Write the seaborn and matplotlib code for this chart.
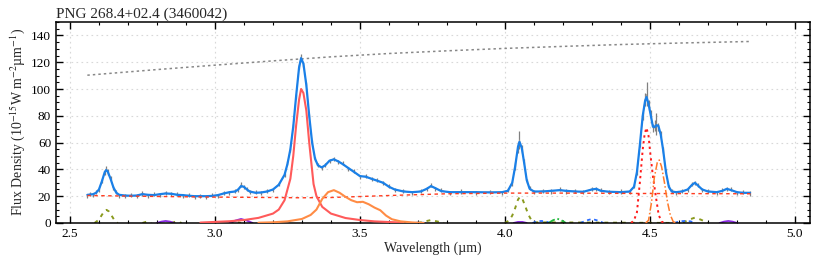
import numpy as np
import pandas as pd
import matplotlib
matplotlib.use("Agg")
import matplotlib.pyplot as plt
import seaborn as sns
from matplotlib.ticker import MultipleLocator

# ---------------- data ----------------
title = "PNG 268.4+02.4 (3460042)"

model_wl = [2.560, 2.570, 2.580, 2.590, 2.600, 2.610, 2.620, 2.625, 2.630, 2.640,
            2.650, 2.660, 2.670, 2.690, 2.710, 2.730, 2.750, 2.770, 2.790, 2.810,
            2.830, 2.850, 2.870, 2.890, 2.910, 2.930, 2.950, 2.970, 2.990, 3.010,
            3.030, 3.050, 3.070, 3.080, 3.090, 3.100, 3.110, 3.120, 3.140, 3.160,
            3.180, 3.200, 3.220, 3.240, 3.250, 3.260, 3.270, 3.280, 3.290, 3.297,
            3.305, 3.315, 3.325, 3.335, 3.345, 3.355, 3.368, 3.380, 3.395, 3.410,
            3.425, 3.440, 3.460, 3.480, 3.500, 3.520, 3.540, 3.560, 3.580, 3.600,
            3.620, 3.650, 3.680, 3.710, 3.730, 3.745, 3.760, 3.780, 3.810, 3.850,
            3.900, 3.950, 3.990, 4.010, 4.025, 4.035, 4.045, 4.050, 4.058, 4.066,
            4.075, 4.085, 4.100, 4.130, 4.160, 4.190, 4.210, 4.240, 4.270, 4.300,
            4.315, 4.330, 4.360, 4.400, 4.430, 4.445, 4.455, 4.465, 4.475, 4.483,
            4.488, 4.495, 4.503, 4.510, 4.516, 4.522, 4.529, 4.537, 4.545, 4.555,
            4.565, 4.575, 4.590, 4.610, 4.630, 4.645, 4.655, 4.665, 4.680, 4.700,
            4.730, 4.750, 4.765, 4.780, 4.800, 4.820, 4.845]
model_flux = [21.0, 21.2, 21.5, 22.5, 25.0, 31.0, 38.0, 39.5, 38.5, 33.0,
              26.5, 22.5, 21.0, 20.5, 20.3, 20.5, 21.5, 21.0, 20.8, 21.5,
              22.0, 21.8, 21.0, 20.8, 20.3, 20.0, 20.0, 20.0, 20.2, 20.8,
              22.0, 23.0, 23.5, 25.0, 27.5, 27.0, 25.0, 23.5, 22.5, 22.8,
              23.5, 25.0, 28.5, 36.0, 44.0, 55.0, 72.0, 95.0, 116.0, 123.0,
              119.0, 103.0, 80.0, 60.0, 48.0, 43.0, 41.5, 43.0, 46.5, 47.5,
              46.0, 44.0, 41.0, 38.0, 35.0, 34.5, 33.0, 31.5, 30.0, 27.0,
              25.0, 23.5, 23.0, 23.5, 25.5, 27.5, 26.0, 23.8, 23.0, 23.0,
              23.0, 22.8, 23.0, 24.0, 30.0, 42.0, 57.0, 60.5, 56.0, 45.0,
              32.0, 25.5, 23.5, 23.5, 24.0, 24.5, 24.0, 23.5, 23.3, 25.0,
              25.5, 24.0, 23.3, 23.0, 23.5, 27.0, 38.0, 58.0, 80.0, 91.0,
              94.0, 89.0, 80.0, 72.0, 71.5, 73.0, 72.5, 66.0, 55.0, 38.0,
              27.0, 23.5, 23.0, 23.5, 25.0, 28.5, 30.0, 28.0, 25.0, 23.5,
              23.0, 24.0, 25.5, 24.5, 23.0, 22.5, 22.5]

obs_flux = [20.5, 21.8, 21.0, 23.0, 24.5, 31.5, 37.5, 40.5, 38.0, 33.5,
            26.0, 23.0, 20.5, 20.0, 20.8, 20.0, 22.0, 20.5, 21.3, 21.0,
            22.5, 21.3, 21.5, 20.3, 20.8, 19.5, 20.5, 19.6, 20.6, 20.3,
            22.5, 22.6, 24.0, 24.5, 28.5, 26.5, 25.5, 23.0, 23.0, 22.3,
            24.0, 24.5, 29.0, 35.5, 44.5, 54.5, 72.5, 94.5, 117.0, 124.0,
            118.5, 104.0, 79.5, 60.5, 47.5, 43.5, 41.0, 43.5, 46.0, 48.0,
            45.5, 44.5, 40.5, 38.5, 34.5, 35.0, 32.5, 32.0, 29.5, 27.5,
            24.5, 24.0, 22.5, 24.0, 25.0, 28.0, 25.5, 24.3, 22.5, 23.5,
            22.5, 23.2, 22.6, 24.5, 29.5, 42.5, 56.5, 62.0, 55.0, 46.0,
            31.5, 26.0, 23.0, 24.0, 23.5, 25.0, 23.5, 24.0, 22.8, 25.5,
            25.0, 24.5, 22.8, 23.5, 23.0, 27.5, 37.5, 58.5, 79.5, 92.0,
            96.0, 88.0, 81.0, 71.0, 72.5, 74.0, 71.5, 66.5, 54.5, 38.5,
            26.5, 24.0, 22.5, 24.0, 24.5, 29.0, 29.5, 28.5, 24.5, 24.0,
            22.5, 24.5, 25.0, 25.0, 22.5, 23.0, 22.0]
obs_err = [1.5, 1.5, 1.5, 1.5, 1.5, 1.5, 2.0, 2.0, 2.0, 1.5,
           1.5, 1.5, 1.5, 1.5, 1.5, 1.5, 1.5, 1.5, 1.5, 1.5,
           1.5, 1.5, 1.5, 1.5, 1.5, 1.5, 1.5, 1.5, 1.5, 1.5,
           1.5, 1.5, 1.5, 1.5, 2.0, 1.5, 1.5, 1.5, 1.5, 1.5,
           1.5, 1.5, 1.5, 1.5, 1.5, 1.5, 1.5, 2.0, 2.0, 2.0,
           2.0, 1.5, 1.5, 1.5, 1.5, 1.5, 1.5, 1.5, 1.5, 1.5,
           1.5, 1.5, 1.5, 1.5, 1.5, 1.5, 1.5, 1.5, 1.5, 1.5,
           1.5, 1.5, 1.5, 1.5, 1.5, 1.5, 1.5, 1.5, 1.5, 1.5,
           1.5, 1.5, 1.5, 1.5, 2.0, 3.0, 4.0, 7.0, 3.0, 2.0,
           1.5, 1.5, 1.5, 1.5, 1.5, 1.5, 1.5, 1.5, 1.5, 1.5,
           1.5, 1.5, 1.5, 1.5, 1.5, 1.5, 2.0, 2.0, 3.0, 5.0,
           9.0, 4.0, 3.0, 3.0, 4.0, 8.0, 3.0, 2.0, 2.0, 1.5,
           1.5, 1.5, 1.5, 1.5, 1.5, 1.5, 1.5, 1.5, 1.5, 1.5,
           1.5, 1.5, 1.5, 1.5, 1.5, 1.5, 1.5]

stellar_wl = [2.56, 2.80, 3.00, 3.20, 3.40, 3.60, 3.80, 4.00, 4.20, 4.40, 4.60, 4.85]
stellar_flux = [110.3, 114.5, 117.8, 121.0, 124.0, 126.5, 128.5, 130.3, 131.8, 133.2, 134.3, 135.5]

cont_wl = [2.56, 2.80, 3.00, 3.20, 3.30, 3.40, 3.60, 3.80, 4.00, 4.20, 4.50, 4.85]
cont_flux = [20.5, 19.8, 19.3, 19.0, 18.8, 19.0, 20.5, 21.8, 22.3, 22.3, 22.0, 21.8]

pah33_wl = [2.95, 3.00, 3.05, 3.10, 3.15, 3.20, 3.22, 3.24, 3.26, 3.27, 3.28, 3.29,
            3.297, 3.305, 3.315, 3.325, 3.34, 3.35, 3.37, 3.40, 3.45, 3.50, 3.55, 3.60, 3.65]
pah33_flux = [0.3, 0.8, 1.3, 2.2, 3.8, 7.0, 10.0, 17.0, 33.0, 50.0, 73.0, 92.0,
              100.0, 97.0, 84.0, 60.0, 29.0, 20.0, 12.0, 7.0, 3.7, 2.2, 1.2, 0.7, 0.3]

pah34_wl = [3.15, 3.20, 3.25, 3.30, 3.33, 3.35, 3.37, 3.39, 3.41, 3.43, 3.45, 3.47,
            3.49, 3.51, 3.53, 3.55, 3.57, 3.59, 3.61, 3.64, 3.68, 3.72]
pah34_flux = [0.2, 0.5, 1.2, 3.0, 6.0, 10.0, 18.0, 23.0, 24.5, 22.5, 19.5, 17.0,
              15.5, 15.8, 14.0, 11.5, 9.5, 5.5, 2.8, 1.2, 0.4, 0.0]

line449_wl = [4.435, 4.445, 4.455, 4.465, 4.475, 4.482, 4.488, 4.495, 4.500, 4.510, 4.520, 4.530, 4.540, 4.550]
line449_flux = [0.0, 2.0, 8.0, 30.0, 55.0, 67.0, 71.0, 65.0, 54.0, 35.0, 20.0, 6.0, 1.0, 0.0]

line453_wl = [4.485, 4.495, 4.505, 4.515, 4.525, 4.532, 4.540, 4.550, 4.560, 4.570, 4.580, 4.590]
line453_flux = [0.0, 2.0, 15.0, 34.0, 45.0, 47.0, 42.0, 30.0, 16.0, 6.0, 1.0, 0.0]

olive_wl = [2.585, 2.600, 2.610, 2.620, 2.626, 2.635, 2.645, 2.655, 2.665, 2.70,
            2.75, 2.765, 2.78, 2.85, 2.867, 2.885, 3.05, 3.07, 3.09, 3.70,
            3.725, 3.745, 3.765, 3.79, 4.000, 4.015, 4.025, 4.035, 4.045, 4.052,
            4.060, 4.070, 4.080, 4.090, 4.100, 4.61, 4.635, 4.655, 4.675, 4.70]
olive_flux = [0.0, 2.5, 6.0, 9.3, 9.8, 8.5, 5.0, 1.5, 0.0, 0.0,
              0.0, 1.0, 0.0, 0.0, 1.2, 0.0, 0.0, 1.0, 0.0, 0.0,
              1.2, 2.2, 1.2, 0.0, 0.0, 2.0, 5.5, 11.0, 17.5, 19.6,
              18.0, 12.5, 6.5, 2.5, 0.5, 0.0, 2.5, 4.0, 2.5, 0.0]

purple_wl = [2.80, 2.815, 2.83, 2.845, 2.86, 3.05, 3.07, 3.09, 3.11, 3.13,
             4.03, 4.045, 4.06, 4.075, 4.74, 4.755, 4.77, 4.785, 4.80]
purple_flux = [0.0, 1.0, 1.5, 1.0, 0.0, 0.0, 1.8, 3.0, 1.8, 0.0,
               0.0, 0.8, 0.8, 0.0, 0.0, 1.0, 1.5, 1.0, 0.0]

blue_wl = [3.69, 3.707, 3.725, 4.095, 4.11, 4.125, 4.14, 4.155, 4.26, 4.28,
           4.30, 4.32, 4.34, 4.585, 4.60, 4.62, 4.64, 4.655]
blue_flux = [0.0, 0.5, 0.0, 0.0, 1.2, 1.5, 1.2, 0.0, 0.0, 1.8,
             3.0, 1.8, 0.0, 0.0, 1.2, 1.5, 1.2, 0.0]

green_wl = [4.15, 4.165, 4.18, 4.195, 4.21]
green_flux = [0.0, 2.0, 3.2, 2.0, 0.0]

xticks = [2.5, 3.0, 3.5, 4.0, 4.5, 5.0]
yticks = [0, 20, 40, 60, 80, 100, 120, 140]


def split_bumps(wl, flux):
    """Give each separate bump its own unit id (break between two zeros)."""
    seg, ids = 0, []
    for i, f in enumerate(flux):
        if i > 0 and f == 0 and flux[i - 1] == 0:
            seg += 1
        ids.append(seg)
    return pd.DataFrame({"wl": wl, "flux": flux, "seg": ids})


# ---------------- style ----------------
sns.set_theme(style="ticks")
plt.rcParams["font.family"] = ["Liberation Serif", "DejaVu Serif"]
plt.rcParams["mathtext.fontset"] = "stix"

fig = plt.figure(figsize=(8.3, 2.56), dpi=100)
ax = fig.add_axes([0.0675, 0.129, 0.9085, 0.785])

ax.errorbar(model_wl, obs_flux, yerr=obs_err, fmt="none", ecolor="#808080",
            elinewidth=0.9, zorder=2)
sns.lineplot(x=model_wl, y=obs_flux, ax=ax, color="#9a9a9a", lw=0.6,
             sort=False, estimator=None, zorder=2)
sns.lineplot(x=model_wl, y=model_flux, ax=ax, color="#1a80e8", lw=1.6,
             sort=False, estimator=None, zorder=4)

sns.lineplot(x=stellar_wl, y=stellar_flux, ax=ax, color="#888888", lw=1.1,
             linestyle=(0, (1.6, 2.0)), sort=False, estimator=None, zorder=3)
sns.lineplot(x=cont_wl, y=cont_flux, ax=ax, color="#ff3b1f", lw=1.0,
             linestyle=(0, (2.5, 2.5)), sort=False, estimator=None, zorder=5)
sns.lineplot(x=pah33_wl, y=pah33_flux, ax=ax, color="#ff5a5a", lw=1.5,
             sort=False, estimator=None, zorder=5)
sns.lineplot(x=pah34_wl, y=pah34_flux, ax=ax, color="#ff8c45", lw=1.5,
             sort=False, estimator=None, zorder=5)
sns.lineplot(x=line449_wl, y=line449_flux, ax=ax, color="#ff1a1a", lw=1.4,
             linestyle=(0, (1.2, 1.8)), sort=False, estimator=None, zorder=5)
sns.lineplot(x=line453_wl, y=line453_flux, ax=ax, color="#ff7a2a", lw=1.1,
             linestyle=(0, (5, 1.5, 1, 1.5)), sort=False, estimator=None, zorder=5)

small = [
    (olive_wl, olive_flux, "#8a9a1e", (0, (2.0, 2.5)), 1.4),
    (purple_wl, purple_flux, "#8a2be2", "-", 1.3),
    (blue_wl, blue_flux, "#2a6cff", (0, (2.0, 2.0)), 1.3),
    (green_wl, green_flux, "#1fb83a", (0, (4, 1.5, 1, 1.5)), 1.3),
]
for wl, fl, col, ls, lw in small:
    df = split_bumps(wl, fl)
    sns.lineplot(data=df, x="wl", y="flux", units="seg", estimator=None,
                 sort=False, ax=ax, color=col, lw=lw, linestyle=ls, zorder=2.2)

ax.set_xlim(2.452, 5.052)
ax.set_ylim(0, 150)
ax.set_xticks(xticks)
ax.set_yticks(yticks)
ax.xaxis.set_minor_locator(MultipleLocator(0.1))
ax.yaxis.set_minor_locator(MultipleLocator(5))
ax.tick_params(which="both", direction="in", top=True, right=True, labelsize=9.5,
               colors="black")
ax.tick_params(which="major", length=5, width=1.0)
ax.tick_params(which="minor", length=2.5, width=0.8)
ax.set_xticklabels([f"{t:.1f}" for t in xticks])
for s in ax.spines.values():
    s.set_linewidth(1.1)
    s.set_color("black")
ax.grid(True, which="major", color="#d8d8d8", linestyle=(0, (1.5, 3)), lw=0.8)

ax.set_xlabel("Wavelength (µm)", fontsize=10, labelpad=1)
ax.set_ylabel(r"Flux Density (10$^{-15}$W m$^{-2}$µm$^{-1}$)", fontsize=10, labelpad=3)
ax.set_title(title, loc="left", fontsize=11, pad=3)

fig.savefig("out.png", dpi=100)
